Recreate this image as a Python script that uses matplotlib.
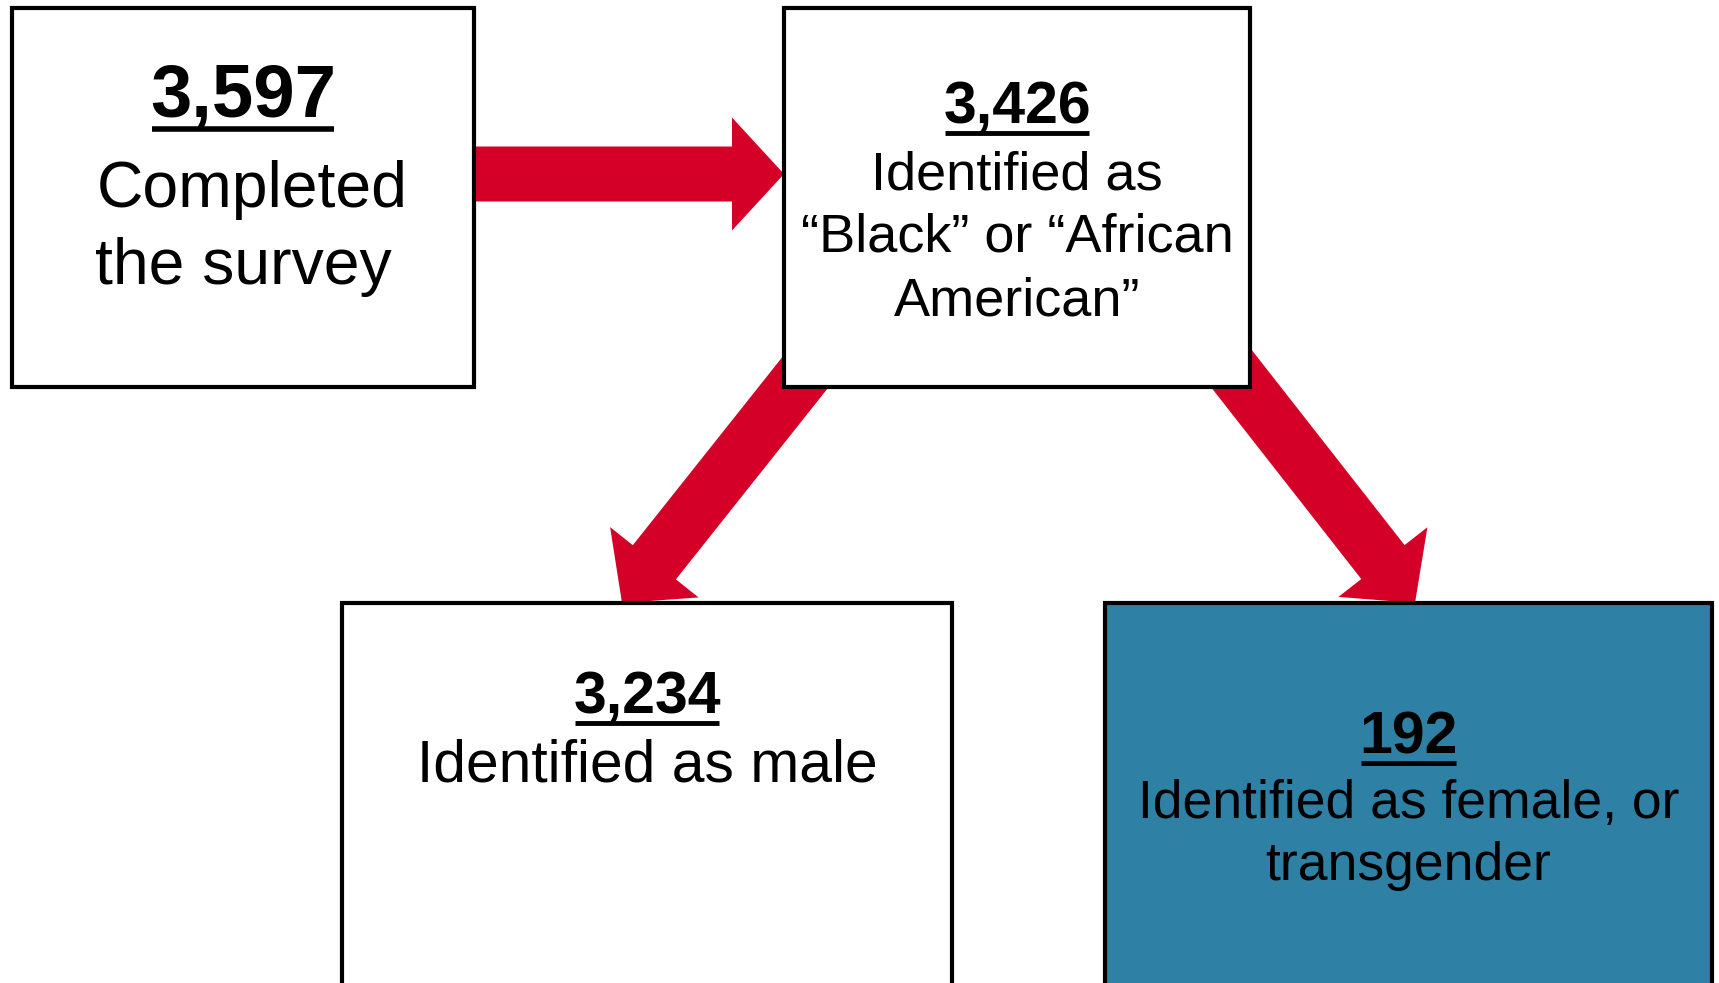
import matplotlib.pyplot as plt
from matplotlib.patches import Rectangle, FancyArrow

# participant flow counts
counts = [3597, 3426, 3234, 192]
labels = [
    ['Completed', 'the survey'],
    ['Identified as', '\u201cBlack\u201d or \u201cAfrican', 'American\u201d'],
    ['Identified as male'],
    ['Identified as female, or', 'transgender'],
]
fills = ['white', 'white', 'white', '#2E80A4']

# box layout in pixels: x0, y0, x1, y1 (y grows downward)
boxes = [(12, 8, 474, 387), (784, 8, 1250, 387), (342, 603, 952, 1010), (1105, 603, 1712, 1010)]
num_base = [116, 123, 713, 753]
line_base = [[207, 284], [189, 252, 316], [782], [818, 880]]
num_size = [53.5, 42.5, 42.5, 42.5]
txt_size = [46.3, 39, 42.3, 38.5]
text_dx = [[9, 0], [0, 0, 0], [0], [0, 0]]

red = '#D50027'

plt.rcParams['font.family'] = ['Liberation Sans', 'DejaVu Sans']
fig = plt.figure(figsize=(17.19, 9.83), dpi=100)
ax = fig.add_axes([0, 0, 1, 1])
ax.set_xlim(0, 1719)
ax.set_ylim(983, 0)
ax.axis('off')

# arrows (drawn behind the boxes)
arrow_kw = dict(width=55, head_width=113, head_length=52, length_includes_head=True,
                color=red, linewidth=0, zorder=1)
ax.add_patch(FancyArrow(474, 174, 784 - 474, 0, **arrow_kw))
ax.add_patch(FancyArrow(831, 340, 622 - 831, 603 - 340, **arrow_kw))
ax.add_patch(FancyArrow(1209, 340, 1415 - 1209, 603 - 340, **arrow_kw))

numbers = []
for i, (x0, y0, x1, y1) in enumerate(boxes):
    ax.add_patch(Rectangle((x0, y0), x1 - x0, y1 - y0, facecolor=fills[i],
                           edgecolor='black', linewidth=3, zorder=2))
    cx = (x0 + x1) / 2
    t = ax.text(cx, num_base[i], f'{counts[i]:,}', ha='center', va='baseline',
                fontsize=num_size[i], fontweight='bold', zorder=3)
    numbers.append((t, i))
    for j, line in enumerate(labels[i]):
        ax.text(cx + text_dx[i][j], line_base[i][j], line, ha='center', va='baseline',
                fontsize=txt_size[i], zorder=3)

# underline the numbers
fig.canvas.draw()
renderer = fig.canvas.get_renderer()
inv = ax.transData.inverted()
for t, i in numbers:
    bb = t.get_window_extent(renderer)
    (xa, _), (xb, _) = inv.transform([(bb.x0, bb.y0), (bb.x1, bb.y1)])
    uy = num_base[i] + (13 if i == 0 else 10)
    ax.plot([xa + 2, xb - 2], [uy, uy], color='black', linewidth=4 if i == 0 else 3.5,
            solid_capstyle='butt', zorder=3)

fig.savefig('out.png', dpi=100)
